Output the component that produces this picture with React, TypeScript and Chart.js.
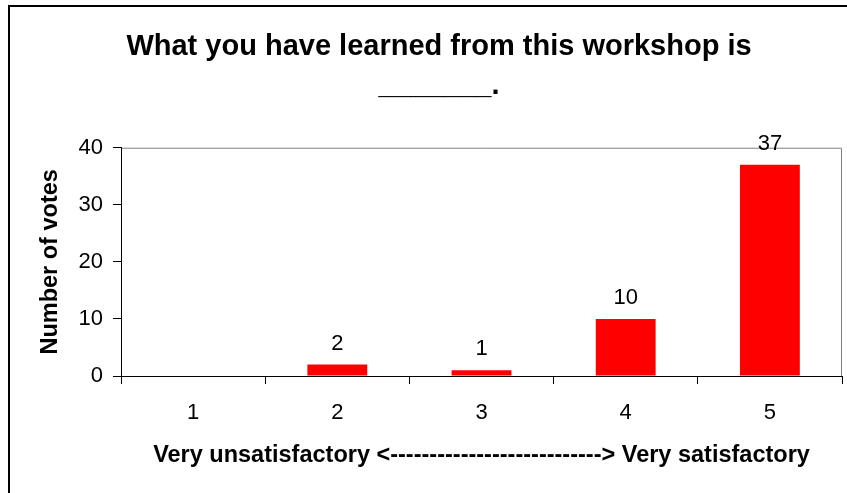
import React, { useEffect, useRef } from "react";
import { Chart, registerables } from "chart.js";

Chart.register(...registerables);

const categories = ["1", "2", "3", "4", "5"];
const votes = [0, 2, 1, 10, 37];
const titleLines = ["What you have learned from this workshop is", "_______."];
const yTitle = "Number of votes";
const xTitle = "Very unsatisfactory <---------------------------> Very satisfactory";

const FONT = "'Liberation Sans', Arial, sans-serif";

const framePlugin = {
  id: "frame",
  beforeDraw(chart: any) {
    const { ctx, chartArea, width, height } = chart;
    ctx.save();
    ctx.strokeStyle = "#000";
    ctx.lineWidth = 2;
    ctx.beginPath();
    ctx.moveTo(9, height);
    ctx.lineTo(9, 6);
    ctx.lineTo(width, 6);
    ctx.stroke();
    ctx.strokeStyle = "#808080";
    ctx.lineWidth = 1;
    ctx.beginPath();
    ctx.moveTo(chartArea.left, chartArea.top + 0.5);
    ctx.lineTo(chartArea.right - 0.5, chartArea.top + 0.5);
    ctx.lineTo(chartArea.right - 0.5, chartArea.bottom);
    ctx.stroke();
    ctx.restore();
  },
};

const valueLabelPlugin = {
  id: "valueLabels",
  afterDatasetsDraw(chart: any) {
    const { ctx } = chart;
    const meta = chart.getDatasetMeta(0);
    const data = chart.data.datasets[0].data as number[];
    ctx.save();
    ctx.font = `22px ${FONT}`;
    ctx.fillStyle = "#000";
    ctx.textAlign = "center";
    ctx.textBaseline = "middle";
    meta.data.forEach((bar: any, i: number) => {
      if (!data[i]) return;
      ctx.fillText(String(data[i]), bar.x, bar.y - 21);
    });
    ctx.restore();
  },
};

export default function App() {
  const ref = useRef<HTMLCanvasElement | null>(null);
  useEffect(() => {
    if (!ref.current) return;
    const chart = new Chart(ref.current, {
      type: "bar",
      data: {
        labels: categories,
        datasets: [
          {
            data: votes,
            backgroundColor: "#FF0000",
            borderWidth: 0,
            barPercentage: 0.415,
            categoryPercentage: 1,
          },
        ],
      },
      options: {
        animation: false,
        responsive: true,
        maintainAspectRatio: false,
        layout: { padding: { left: 36, right: 5, top: 0, bottom: 0 } },
        plugins: {
          legend: { display: false },
          tooltip: { enabled: false },
          title: {
            display: true,
            text: titleLines,
            color: "#000",
            font: { family: FONT, size: 29, weight: "bold", lineHeight: 1.34 },
            padding: { top: 28, bottom: 42 },
          },
        },
        scales: {
          x: {
            grid: {
              offset: true,
              drawOnChartArea: false,
              drawTicks: true,
              tickLength: 8,
              color: "#000",
            },
            border: { color: "#000", width: 1 },
            ticks: { color: "#000", font: { family: FONT, size: 22 }, padding: 16 },
            title: {
              display: true,
              text: xTitle,
              color: "#000",
              font: { family: FONT, size: 23.5, weight: "bold" },
              padding: { top: 10, bottom: 23 },
            },
            afterFit(scale: any) {
              scale.height = 117;
            },
          },
          y: {
            min: 0,
            max: 40,
            ticks: { stepSize: 10, color: "#000", font: { family: FONT, size: 22 }, padding: 10 },
            grid: { drawOnChartArea: false, drawTicks: true, tickLength: 8, color: "#000" },
            border: { color: "#000", width: 1 },
            title: {
              display: true,
              text: yTitle,
              color: "#000",
              font: { family: FONT, size: 23.5, weight: "bold" },
              padding: 0,
            },
            afterFit(scale: any) {
              scale.width = 121 - 36;
            },
          },
        },
      },
      plugins: [framePlugin, valueLabelPlugin],
    });
    return () => chart.destroy();
  }, []);
  return (
    <div style={{ position: "fixed", left: 0, top: 0, width: 847, height: 493, background: "#fff" }}>
      <canvas ref={ref} />
    </div>
  );
}
